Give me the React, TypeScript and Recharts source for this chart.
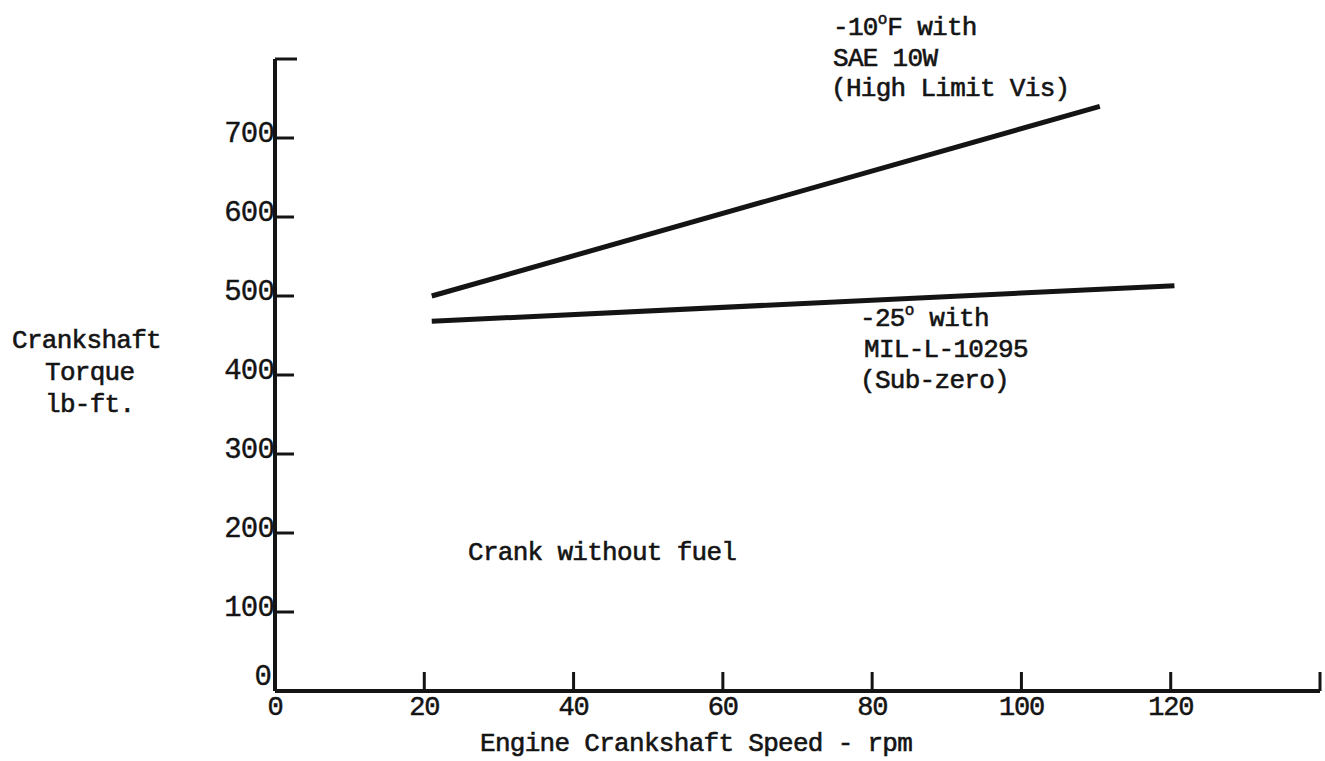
import React from 'react';
import { LineChart, Line, XAxis, YAxis } from 'recharts';

const xTicks = [0, 20, 40, 60, 80, 100, 120, 140];
const xTickLabels = ['0', '20', '40', '60', '80', '100', '120', ''];
const yTicks = [0, 100, 200, 300, 400, 500, 600, 700, 800];
const yTickLabels = ['0', '100', '200', '300', '400', '500', '600', '700', ''];

const sae10wSpeed = [21, 110.5];
const sae10wTorque = [500, 740];
const milSpeed = [21, 120.5];
const milTorque = [468, 513];

const sae10wData = sae10wSpeed.map((x, i) => ({ x, y: sae10wTorque[i] }));
const milData = milSpeed.map((x, i) => ({ x, y: milTorque[i] }));

const INK = '#141414';
const FONT = '"Liberation Mono", "DejaVu Sans Mono", monospace';

const W = 1325;
const H = 761;

const XTick = (props: any) => {
  const { x, y, payload } = props;
  const v = payload.value;
  const label = xTickLabels[xTicks.indexOf(v)] ?? '';
  return (
    <g>
      {v !== 0 && (
        <line x1={x} y1={y} x2={x} y2={y - 19} stroke={INK} strokeWidth={3} />
      )}
      {label && (
        <text
          x={x}
          y={y + 24}
          textAnchor="middle"
          fontFamily={FONT}
          fontSize={27}
          letterSpacing={-1.2}
          stroke={INK}
          strokeWidth={0.5}
          fill={INK}
        >
          {label}
        </text>
      )}
    </g>
  );
};

const YTick = (props: any) => {
  const { x, y, payload } = props;
  const v = payload.value;
  const label = yTickLabels[yTicks.indexOf(v)] ?? '';
  return (
    <g>
      {v !== 0 && (
        <line x1={x} y1={y} x2={x + (v === 800 ? 22 : 19)} y2={y} stroke={INK} strokeWidth={3} />
      )}
      {label && (
        <text
          x={v === 0 ? x - 4 : x - 1}
          y={v === 0 ? y - 6 : y + 4}
          textAnchor="end"
          fontFamily={FONT}
          fontSize={29}
          letterSpacing={-0.8}
          stroke={INK}
          strokeWidth={0.4}
          fill={INK}
        >
          {label}
        </text>
      )}
    </g>
  );
};

const textStyle = {
  fontFamily: FONT,
  fontSize: 26,
  letterSpacing: -0.7,
  fill: INK,
  stroke: INK,
  strokeWidth: 0.6,
};

export default function App() {
  return (
    <div style={{ position: 'absolute', left: 0, top: 0, width: W, height: H, background: '#fff' }}>
      <LineChart
        width={W}
        height={H}
        margin={{ top: 59, right: 5, bottom: 0, left: 0 }}
      >
        <XAxis
          type="number"
          dataKey="x"
          domain={[0, 140]}
          ticks={xTicks}
          allowDataOverflow
          height={70}
          tickSize={0}
          tickMargin={0}
          tickLine={false}
          axisLine={{ stroke: INK, strokeWidth: 4 }}
          tick={<XTick />}
          interval={0}
        />
        <YAxis
          type="number"
          dataKey="y"
          domain={[0, 800]}
          ticks={yTicks}
          allowDataOverflow
          width={275}
          tickSize={0}
          tickMargin={0}
          tickLine={false}
          axisLine={{ stroke: INK, strokeWidth: 4 }}
          tick={<YTick />}
          interval={0}
        />
        <Line
          data={sae10wData}
          dataKey="y"
          type="linear"
          stroke={INK}
          strokeWidth={5}
          dot={false}
          isAnimationActive={false}
        />
        <Line
          data={milData}
          dataKey="y"
          type="linear"
          stroke={INK}
          strokeWidth={5}
          dot={false}
          isAnimationActive={false}
        />
      </LineChart>
      <svg
        width={W}
        height={H}
        style={{ position: 'absolute', left: 0, top: 0, pointerEvents: 'none' }}
      >
        <text x={833} y={35} {...textStyle}>
          -10
          <tspan dy={-11} fontSize={16} letterSpacing={0}>o</tspan>
          <tspan dy={11}>F with</tspan>
        </text>
        <text x={833} y={66} {...textStyle}>SAE 10W</text>
        <text x={831} y={96} {...textStyle}>(High Limit Vis)</text>

        <text x={860} y={326} {...textStyle}>
          -25
          <tspan dy={-11} fontSize={16} letterSpacing={0}>o</tspan>
          <tspan dy={11}> with</tspan>
        </text>
        <text x={864} y={357} {...textStyle}>MIL-L-10295</text>
        <text x={860} y={388} {...textStyle}>(Sub-zero)</text>

        <text x={468} y={560} {...textStyle}>Crank without fuel</text>

        <text x={12} y={348} {...textStyle}>Crankshaft</text>
        <text x={45} y={380} {...textStyle}>Torque</text>
        <text x={45} y={412} {...textStyle}>lb-ft.</text>

        <text x={480} y={751} {...textStyle}>Engine Crankshaft Speed - rpm</text>
      </svg>
    </div>
  );
}
